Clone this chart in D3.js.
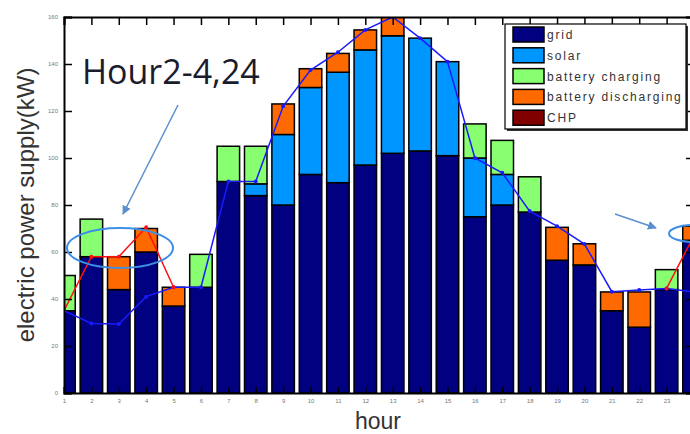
<!DOCTYPE html>
<html>
<head>
<meta charset="utf-8">
<script src="https://cdn.jsdelivr.net/npm/d3@7"></script>
<style>
  body { margin: 0; background: #fff; }
  svg { display: block; }
</style>
</head>
<body>
<script>
// data
var hours = d3.range(1, 25);
var grid        = [35, 58, 44, 60, 37, 45, 90, 84, 80, 93, 89.5, 97, 102, 103, 101, 75, 80, 77, 56.5, 54.5, 35, 28, 44, 65];
var solar       = [0, 0, 0, 0, 0, 0, 0, 5, 30, 37, 47, 49, 50, 48, 40, 25, 13, 0, 0, 0, 0, 0, 0, 0];
var charging    = [15, 16, 0, 0, 0, 14, 15, 16, 0, 0, 0, 0, 0, 0, 0, 14.5, 14.5, 15, 0, 0, 0, 0, 8.5, 0];
var discharging = [0, 0, 14, 10, 8, 0, 0, 0, 13, 8, 8, 8.5, 8, 0, 0, 0, 0, 0, 14, 9, 8, 15, 0, 6];
var chp         = [0, 0, 0, 0, 0, 0, 0, 0, 0, 0, 0, 0, 0, 0, 0, 0, 0, 0, 0, 0, 0, 0, 0, 0];
var load        = [35, 29.6, 29.4, 41, 45, 45, 90, 90, 122, 137.4, 145, 154.5, 160, 151, 141, 100, 93.7, 77.4, 71, 63.4, 43.1, 43.8, 44.5, 43];
var redLeftHours  = [1, 2, 3, 4, 5];
var redLeftVals   = [35, 58, 58, 70.5, 45];
var redRightHours = [23, 24];
var redRightVals  = [44.5, 67];
var yTicks = [0, 20, 40, 60, 80, 100, 120, 140, 160];
var keys = ['grid', 'solar', 'battery charging', 'battery discharging', 'CHP'];
var colors = ['#000080', '#0096ff', '#88ff70', '#ff6a00', '#800000'];

var W = 690, H = 434;
var pL = 64, pR = 694, pT = 17, pB = 393;

var svg = d3.select('body').append('svg')
  .attr('width', W)
  .attr('height', H);

var x = d3.scaleLinear().domain([1, 24]).range([pL, pR]);
var y = d3.scaleLinear().domain([0, 160]).range([pB, pT]);
var color = d3.scaleOrdinal().domain(keys).range(colors);
var barW = 22.5;

var rows = hours.map(function(h, i) {
  return { hour: h, 'grid': grid[i], 'solar': solar[i], 'battery charging': charging[i],
           'battery discharging': discharging[i], 'CHP': chp[i] };
});
var series = d3.stack().keys(keys)(rows);

svg.append('clipPath').attr('id', 'plot')
  .append('rect')
  .attr('x', pL).attr('y', pT)
  .attr('width', pR - pL).attr('height', pB - pT);

var plot = svg.append('g').attr('clip-path', 'url(#plot)');

// stacked bars
plot.selectAll('g.layer')
  .data(series)
  .enter().append('g')
  .attr('class', 'layer')
  .attr('fill', function(d) { return color(d.key); })
  .selectAll('rect')
  .data(function(d) { return d.filter(function(s) { return s[1] - s[0] > 0; }); })
  .enter().append('rect')
  .attr('x', function(d) { return x(d.data.hour) - barW / 2; })
  .attr('y', function(d) { return y(d[1]); })
  .attr('width', barW)
  .attr('height', function(d) { return y(d[0]) - y(d[1]); })
  .attr('stroke', '#000')
  .attr('stroke-width', 1.5);

// load line (blue)
var loadPts = hours.map(function(h, i) { return [h, load[i]]; });
plot.append('path')
  .datum(loadPts)
  .attr('fill', 'none')
  .attr('stroke', '#1a1aff')
  .attr('stroke-width', 1.5)
  .attr('d', d3.line()
    .x(function(d) { return x(d[0]); })
    .y(function(d) { return y(d[1]); }));
plot.selectAll('circle.load')
  .data(loadPts)
  .enter().append('circle')
  .attr('class', 'load')
  .attr('cx', function(d) { return x(d[0]); })
  .attr('cy', function(d) { return y(d[1]); })
  .attr('r', 2)
  .attr('fill', '#1a1aff');

// red lines
function redLine(hs, vs) {
  var pts = hs.map(function(h, i) { return [h, vs[i]]; });
  plot.append('path')
    .datum(pts)
    .attr('fill', 'none')
    .attr('stroke', '#ff1010')
    .attr('stroke-width', 1.5)
    .attr('d', d3.line()
      .x(function(d) { return x(d[0]); })
      .y(function(d) { return y(d[1]); }));
  plot.selectAll(null)
    .data(pts)
    .enter().append('circle')
    .attr('cx', function(d) { return x(d[0]); })
    .attr('cy', function(d) { return y(d[1]); })
    .attr('r', 2)
    .attr('fill', '#ff1010');
}
redLine(redLeftHours, redLeftVals);
redLine(redRightHours, redRightVals);

// axes
var axL = svg.append('g').attr('transform', 'translate(' + pL + ',0)')
  .call(d3.axisLeft(y).tickValues(yTicks).tickSize(-8).tickPadding(6));
var axB = svg.append('g').attr('transform', 'translate(0,' + pB + ')')
  .call(d3.axisBottom(x).tickValues(hours).tickSize(-6).tickPadding(6));
var axT = svg.append('g').attr('transform', 'translate(0,' + pT + ')')
  .call(d3.axisTop(x).tickValues(hours).tickSize(-8).tickFormat(''));
var axR = svg.append('g').attr('transform', 'translate(' + pR + ',0)')
  .call(d3.axisRight(y).tickValues(yTicks).tickSize(-8).tickFormat(''));

[axL, axB, axT, axR].forEach(function(a) {
  a.select('.domain').attr('stroke', '#000').attr('stroke-width', 2);
  a.selectAll('.tick line').attr('stroke', '#000').attr('stroke-width', 1.5);
  a.selectAll('.tick text').attr('fill', '#777').attr('font-size', 6)
    .attr('font-family', 'Liberation Sans, Arial, sans-serif');
});

// axis titles
svg.append('text')
  .attr('transform', 'translate(34,205) rotate(-90)')
  .attr('text-anchor', 'middle')
  .attr('font-family', 'Liberation Sans, Arial, sans-serif')
  .attr('font-size', 24)
  .attr('fill', '#333')
  .text('electric power supply(kW)');

svg.append('text')
  .attr('x', 378).attr('y', 429)
  .attr('text-anchor', 'middle')
  .attr('font-family', 'Liberation Sans, Arial, sans-serif')
  .attr('font-size', 23)
  .attr('fill', '#333')
  .text('hour');

// legend
var lg = svg.append('g');
lg.append('rect')
  .attr('x', 507).attr('y', 26).attr('width', 181).attr('height', 105)
  .attr('fill', '#333');
lg.append('rect')
  .attr('x', 505).attr('y', 24).attr('width', 181).attr('height', 105)
  .attr('fill', '#fff').attr('stroke', '#000').attr('stroke-width', 1.2);
lg.selectAll('rect.sw')
  .data(keys)
  .enter().append('rect')
  .attr('class', 'sw')
  .attr('x', 513)
  .attr('y', function(d, i) { return 27 + i * 20.8; })
  .attr('width', 31).attr('height', 15)
  .attr('fill', function(d) { return color(d); })
  .attr('stroke', '#000').attr('stroke-width', 1.5);
lg.selectAll('text')
  .data(keys)
  .enter().append('text')
  .attr('x', 547)
  .attr('y', function(d, i) { return 39 + i * 20.8; })
  .attr('font-family', 'Liberation Sans, Arial, sans-serif')
  .attr('font-size', 12)
  .attr('letter-spacing', 1.8)
  .attr('fill', '#333')
  .text(function(d) { return d; });

// annotation
svg.append('text')
  .attr('x', 82).attr('y', 84)
  .attr('font-family', 'Open Sans, sans-serif')
  .attr('font-size', 34)
  .attr('fill', '#1b1b2e')
  .text('Hour2-4,24');

var defs = svg.append('defs');
defs.append('marker')
  .attr('id', 'head')
  .attr('viewBox', '0 0 10 10')
  .attr('refX', 9).attr('refY', 5)
  .attr('markerWidth', 9).attr('markerHeight', 9)
  .attr('markerUnits', 'userSpaceOnUse')
  .attr('orient', 'auto')
  .append('path').attr('d', 'M0,0L10,5L0,10Z').attr('fill', '#5b8fd0');

var arrows = [[178, 105, 123, 214], [615, 214, 656, 228]];
svg.selectAll('line.arrow')
  .data(arrows)
  .enter().append('line')
  .attr('class', 'arrow')
  .attr('x1', function(d) { return d[0]; })
  .attr('y1', function(d) { return d[1]; })
  .attr('x2', function(d) { return d[2]; })
  .attr('y2', function(d) { return d[3]; })
  .attr('stroke', '#5b8fd0')
  .attr('stroke-width', 1.5)
  .attr('marker-end', 'url(#head)');

var rings = [[120, 248, 53, 20], [694, 233.5, 25, 8.5]];
svg.selectAll('ellipse')
  .data(rings)
  .enter().append('ellipse')
  .attr('cx', function(d) { return d[0]; })
  .attr('cy', function(d) { return d[1]; })
  .attr('rx', function(d) { return d[2]; })
  .attr('ry', function(d) { return d[3]; })
  .attr('fill', 'none')
  .attr('stroke', '#3d8fe6')
  .attr('stroke-width', 2);
</script>
</body>
</html>
